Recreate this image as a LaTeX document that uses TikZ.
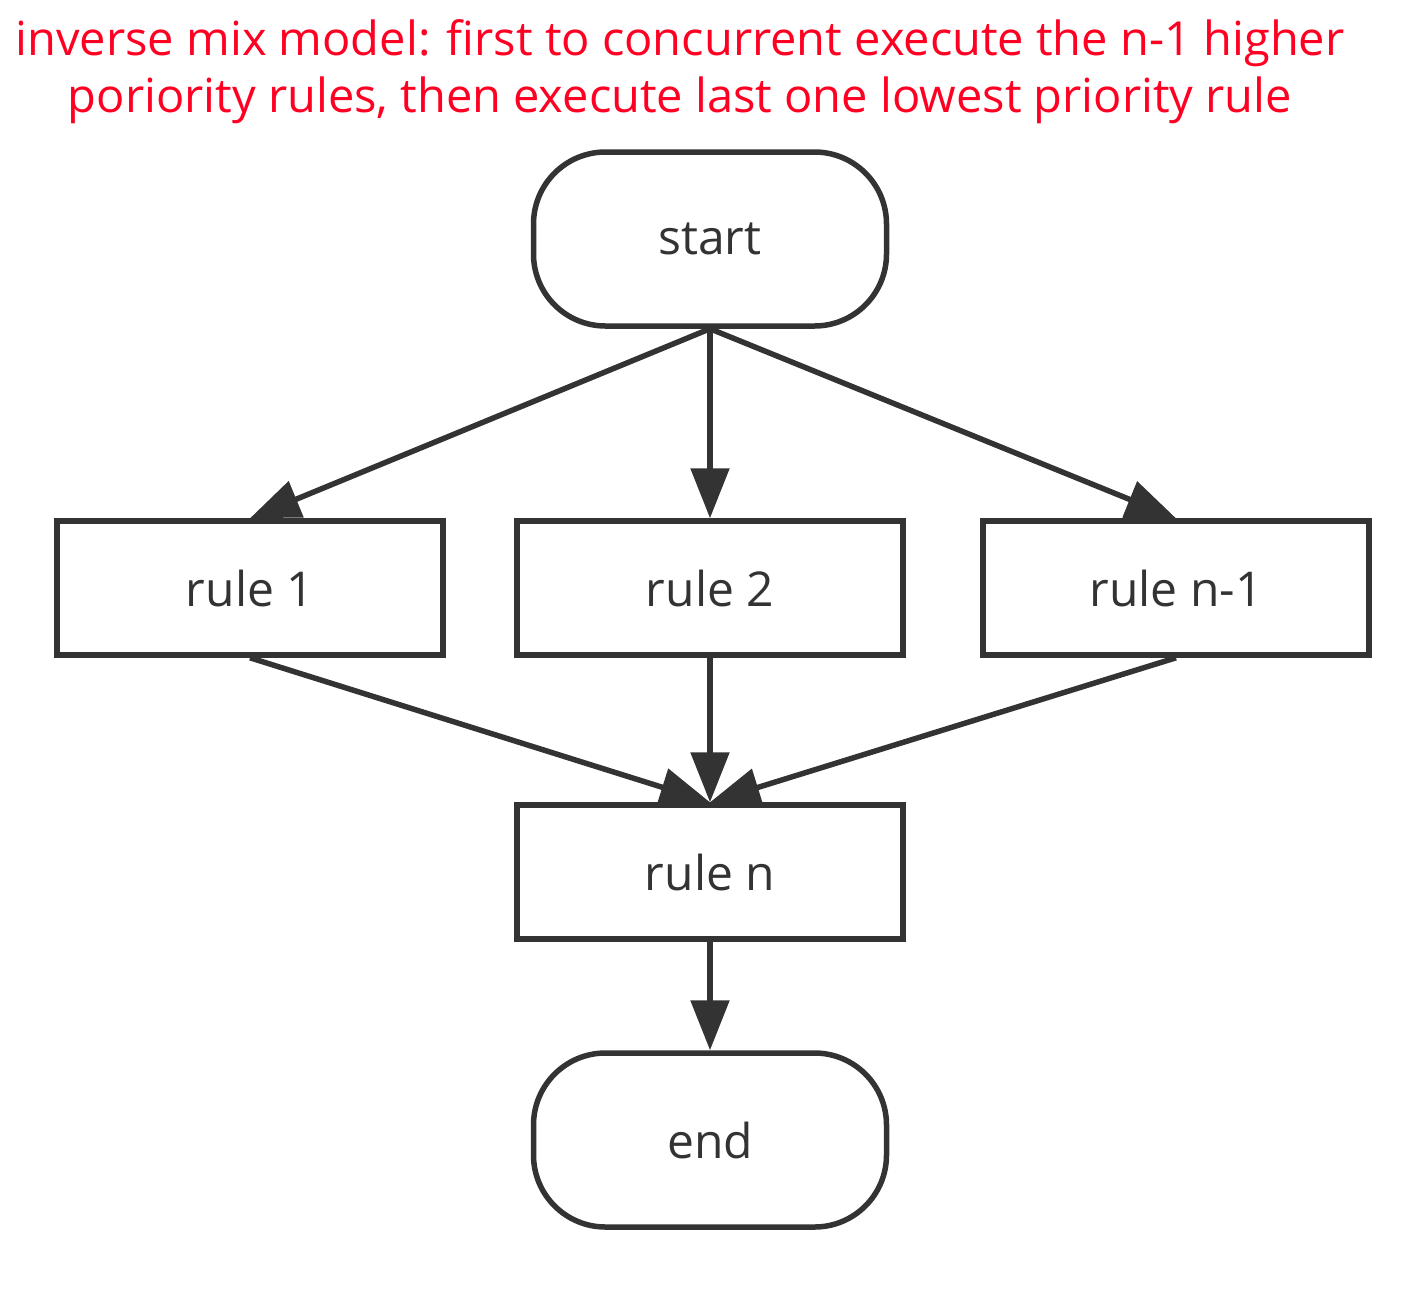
\documentclass[tikz,border=0pt]{standalone}
\usepackage{fontspec}
\setmainfont{Open Sans}
\usetikzlibrary{arrows.meta}
\definecolor{ink}{HTML}{333333}
\definecolor{titlered}{HTML}{FF0022}
\begin{document}
\begin{tikzpicture}[x=1pt,y=-1pt,
  box/.style={draw=ink,line width=5.5pt,fill=white,minimum width=386pt,minimum height=134pt,inner sep=0pt,text=ink,font=\fontsize{48}{54}\selectfont},
  term/.style={box,minimum width=353pt,minimum height=174pt,rounded corners=72pt},
  flow/.style={draw=ink,line width=5.5pt,-{Triangle[length=50pt,width=38pt]}}]
\useasboundingbox (0,0) rectangle (1426,1302);
\node[text=titlered,align=center,font=\fontsize{47}{57}\selectfont] (title) at (680,72)
  {inverse mix model: first to concurrent execute the n-1 higher\\poriority rules, then execute last one lowest priority rule};
\node[term] (start) at (710,239) {\raisebox{-4pt}{start}};
\node[box] (r1) at (250,588) {\raisebox{-5pt}{rule 1}};
\node[box] (r2) at (710,588) {\raisebox{-5pt}{rule 2}};
\node[box] (rn1) at (1176,588) {\raisebox{-5pt}{rule n-1}};
\node[box] (rn) at (710,872) {\raisebox{-5pt}{rule n}};
\node[term] (end) at (710,1140) {\raisebox{-4pt}{end}};
\draw[flow] (start.south) -- (r1.north);
\draw[flow] (start.south) -- (r2.north);
\draw[flow] (start.south) -- (rn1.north);
\draw[flow] (r1.south) -- (rn.north);
\draw[flow] (r2.south) -- (rn.north);
\draw[flow] (rn1.south) -- (rn.north);
\draw[flow] (rn.south) -- (end.north);
\end{tikzpicture}
\end{document}
